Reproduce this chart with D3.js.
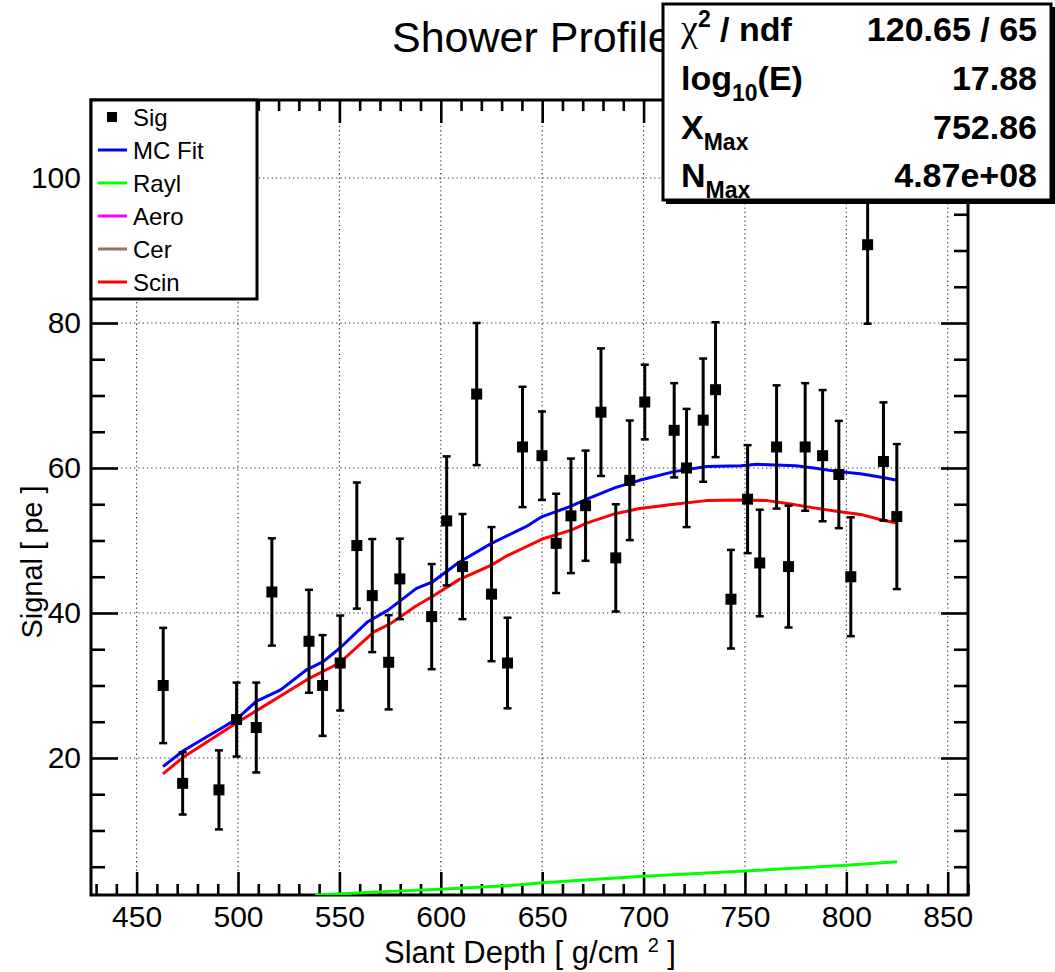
<!DOCTYPE html>
<html><head><meta charset="utf-8">
<script src="https://cdn.jsdelivr.net/npm/d3@7"></script>
<style>body{margin:0;background:#fff}svg{display:block}</style>
</head><body>
<script>
// ---------- data ----------
const depth = [463.1,472.7,490.6,499.3,509.0,516.7,535.0,541.7,550.4,558.6,566.2,574.3,579.8,595.5,602.9,610.7,617.7,625.0,632.9,640.3,649.9,656.9,664.2,671.4,679.0,686.3,693.2,700.6,715.1,721.2,729.4,735.5,743.1,751.3,757.3,765.6,771.5,779.7,788.3,796.3,802.2,810.5,818.3,824.9];
const signal = [30.0,16.5,15.6,25.3,24.2,42.9,36.1,30.0,33.1,49.3,42.4,33.2,44.7,39.5,52.7,46.4,70.2,42.6,33.1,62.9,61.7,49.6,53.4,54.8,67.7,47.6,58.3,69.1,65.2,60.0,66.6,70.8,41.9,55.7,46.9,62.9,46.4,62.9,61.7,59.1,45.0,90.8,60.9,53.3];
const signalErr = [7.95,4.3,5.45,5.1,6.2,7.4,7.1,6.95,6.55,8.7,7.8,6.5,5.55,7.25,8.9,7.25,9.8,9.25,6.25,8.3,6.1,6.85,7.9,7.6,8.8,7.4,8.25,5.15,6.5,8.15,8.5,9.3,6.8,7.45,7.35,8.5,8.4,8.8,9.05,7.4,8.2,10.9,8.15,10.0];

const fitX = [463,473,499,509,521,534,542,550,564,574,588,596,609,625,642,650,664,672,686,698,715,731,748,756,775,784,796,807,818,825];
const fitY = [18.8,21.0,25.3,27.8,29.4,32.2,33.3,35.1,38.8,40.4,43.4,44.3,47.0,49.6,51.9,53.3,54.7,55.7,57.3,58.3,59.5,60.2,60.3,60.5,60.3,60.0,59.5,59.2,58.7,58.3];

const scinX = [463,473,499,509,534,550,567,575,588,596,609,625,632,650,664,672,686,698,715,731,748,761,771,784,796,807,818,825];
const scinY = [17.8,20.1,24.8,26.5,30.8,33.1,37.4,38.5,41.0,42.3,44.6,46.6,47.8,50.2,51.4,52.4,53.7,54.4,55.0,55.5,55.6,55.5,55.1,54.5,54.0,53.6,52.8,52.4];

const raylX = [538,554,575,600,639,650,700,750,800,825];
const raylY = [1.1,1.3,1.6,1.9,2.5,2.8,3.7,4.4,5.2,5.7];

const xMajorTicks = [450,500,550,600,650,700,750,800,850];
const yMajorTicks = [20,40,60,80,100];

const legendLabels = ["Sig","MC Fit","Rayl","Aero","Cer","Scin"];
const legendColors = ["#000000","#0000ff","#00ff00","#ff00ff","#9a7060","#ff0000"];

const statNames = ["chi2","log10E","XMax","NMax"];
const statValues = ["120.65 / 65","17.88","752.86","4.87e+08"];

const titleText = "Shower Profile";
const xTitle = "Slant Depth [ g/cm ";
const yTitle = "Signal [ pe ]";

// ---------- layout ----------
const W = 1055, H = 972;
const L = 91, R = 968, T = 100, B = 895;
const FONT = "'Liberation Sans', Arial, Helvetica, sans-serif";

const svg = d3.select("body").append("svg").attr("width", W).attr("height", H)
  .style("font-family", FONT);

const x = d3.scaleLinear().domain([427.5, 860]).range([L, R]);
const y = d3.scaleLinear().domain([1.1, 110.76]).range([B, T]);

svg.append("defs").append("clipPath").attr("id","clip")
  .append("rect").attr("x",L).attr("y",T).attr("width",R-L).attr("height",B-T);

// grid
const grid = svg.append("g").attr("stroke","#333").attr("stroke-width",1.1).attr("stroke-dasharray","1.3,3");
grid.selectAll(".gx").data(xMajorTicks).join("line")
  .attr("x1",d=>x(d)).attr("x2",d=>x(d)).attr("y1",T).attr("y2",B);
grid.selectAll(".gy").data(yMajorTicks).join("line")
  .attr("x1",L).attr("x2",R).attr("y1",d=>y(d)).attr("y2",d=>y(d));

// axes
const xMinor = d3.range(430, 861, 10).filter(v => v % 50 !== 0);
const yMinor = d3.range(5, 111, 5).filter(v => v % 20 !== 0);

function styleAxis(g){
  g.select(".domain").remove();
  g.selectAll(".tick line").attr("stroke","#000").attr("stroke-width",2.6);
  g.selectAll(".tick text").attr("fill","#000").style("font-family",FONT).style("font-size","30px");
}

svg.append("g").attr("transform",`translate(0,${B})`)
  .call(d3.axisBottom(x).tickValues(xMajorTicks).tickSize(-23).tickSizeOuter(0).tickPadding(11).tickFormat(d3.format("d")))
  .call(styleAxis);
svg.append("g").attr("transform",`translate(0,${B})`)
  .call(d3.axisBottom(x).tickValues(xMinor).tickSize(-11).tickSizeOuter(0).tickFormat(""))
  .call(styleAxis);
svg.append("g").attr("transform",`translate(0,${T})`)
  .call(d3.axisTop(x).tickValues(xMajorTicks).tickSize(-23).tickSizeOuter(0).tickFormat(""))
  .call(styleAxis);
svg.append("g").attr("transform",`translate(0,${T})`)
  .call(d3.axisTop(x).tickValues(xMinor).tickSize(-11).tickSizeOuter(0).tickFormat(""))
  .call(styleAxis);

svg.append("g").attr("transform",`translate(${L},0)`)
  .call(d3.axisLeft(y).tickValues(yMajorTicks).tickSize(-27).tickSizeOuter(0).tickPadding(10).tickFormat(d3.format("d")))
  .call(styleAxis);
svg.append("g").attr("transform",`translate(${L},0)`)
  .call(d3.axisLeft(y).tickValues(yMinor).tickSize(-14).tickSizeOuter(0).tickFormat(""))
  .call(styleAxis);
svg.append("g").attr("transform",`translate(${R},0)`)
  .call(d3.axisRight(y).tickValues(yMajorTicks).tickSize(-27).tickSizeOuter(0).tickFormat(""))
  .call(styleAxis);
svg.append("g").attr("transform",`translate(${R},0)`)
  .call(d3.axisRight(y).tickValues(yMinor).tickSize(-14).tickSizeOuter(0).tickFormat(""))
  .call(styleAxis);

// frame
svg.append("rect").attr("x",L).attr("y",T).attr("width",R-L).attr("height",B-T)
  .attr("fill","none").attr("stroke","#000").attr("stroke-width",3);

// curves
const plot = svg.append("g").attr("clip-path","url(#clip)");
const line = d3.line().x(d=>x(d[0])).y(d=>y(d[1]));
function drawCurve(xs, ys, color){
  plot.append("path").datum(xs.map((v,i)=>[v,ys[i]]))
    .attr("d", line).attr("fill","none").attr("stroke",color).attr("stroke-width",3).attr("stroke-linejoin","round");
}
drawCurve(raylX, raylY, "#00ff00");
drawCurve(scinX, scinY, "#ff0000");
drawCurve(fitX, fitY, "#0000ff");

// data points
const pts = plot.append("g");
const pdata = depth.map((d,i)=>({x:d, y:signal[i], e:signalErr[i]}));
pts.selectAll(".eb").data(pdata).join("line")
  .attr("x1",d=>x(d.x)).attr("x2",d=>x(d.x))
  .attr("y1",d=>y(d.y-d.e)).attr("y2",d=>y(d.y+d.e))
  .attr("stroke","#000").attr("stroke-width",3);
pts.selectAll(".capT").data(pdata).join("line")
  .attr("x1",d=>x(d.x)-4).attr("x2",d=>x(d.x)+4)
  .attr("y1",d=>y(d.y+d.e)).attr("y2",d=>y(d.y+d.e))
  .attr("stroke","#000").attr("stroke-width",2.5);
pts.selectAll(".capB").data(pdata).join("line")
  .attr("x1",d=>x(d.x)-4).attr("x2",d=>x(d.x)+4)
  .attr("y1",d=>y(d.y-d.e)).attr("y2",d=>y(d.y-d.e))
  .attr("stroke","#000").attr("stroke-width",2.5);
pts.selectAll(".mk").data(pdata).join("rect")
  .attr("x",d=>x(d.x)-5.5).attr("y",d=>y(d.y)-5.5).attr("width",11).attr("height",11).attr("fill","#000");

// title
svg.append("text").attr("x",392).attr("y",52).attr("font-size",43).attr("fill","#000").text(titleText);

// axis titles
const xt = svg.append("text").attr("x",530).attr("y",963).attr("text-anchor","middle")
  .attr("font-size",31).attr("fill","#000");
xt.append("tspan").text(xTitle);
xt.append("tspan").attr("dy",-11).attr("font-size",20).text("2");
xt.append("tspan").attr("dy",11).text(" ]");

svg.append("text").attr("transform","translate(42,562) rotate(-90)").attr("text-anchor","middle")
  .attr("font-size",29).attr("fill","#000").text(yTitle);

// legend
const lg = svg.append("g");
lg.append("rect").attr("x",L).attr("y",T).attr("width",166).attr("height",199)
  .attr("fill","#fff").attr("stroke","#000").attr("stroke-width",3);
const rowY = i => 117 + i*33;
legendLabels.forEach((lab,i)=>{
  if(i===0){
    lg.append("rect").attr("x",107).attr("y",rowY(i)-5).attr("width",10).attr("height",10).attr("fill","#000");
  } else {
    lg.append("line").attr("x1",98).attr("x2",127).attr("y1",rowY(i)).attr("y2",rowY(i))
      .attr("stroke",legendColors[i]).attr("stroke-width",3);
  }
  lg.append("text").attr("x",133).attr("y",rowY(i)).attr("dy","0.36em")
    .attr("font-size",24).attr("fill","#000").text(lab);
});

// stats box
const sb = svg.append("g");
sb.append("rect").attr("x",666).attr("y",7).attr("width",389).attr("height",197).attr("fill","#000");
sb.append("rect").attr("x",663).attr("y",4).attr("width",388).attr("height",196)
  .attr("fill","#fff").attr("stroke","#000").attr("stroke-width",3);
const baselines = [41,90,139,187];
const sfs = 34;
function statLabel(i, g){
  const t = g.append("text").attr("x",681).attr("y",baselines[i]).attr("font-size",sfs)
    .attr("font-weight","bold").attr("fill","#000");
  if(statNames[i]==="chi2"){
    t.append("tspan").attr("font-family","'Liberation Serif', 'DejaVu Serif', serif").attr("font-weight","normal").attr("font-size",38).text("\u03C7");
    t.append("tspan").attr("dy",-14).attr("font-size",23).text("2");
    t.append("tspan").attr("dy",14).text(" / ndf");
  } else if(statNames[i]==="log10E"){
    t.append("tspan").text("log");
    t.append("tspan").attr("dy",11).attr("font-size",23).text("10");
    t.append("tspan").attr("dy",-11).text("(E)");
  } else if(statNames[i]==="XMax"){
    t.append("tspan").text("X");
    t.append("tspan").attr("dy",11).attr("font-size",23).text("Max");
  } else {
    t.append("tspan").text("N");
    t.append("tspan").attr("dy",11).attr("font-size",23).text("Max");
  }
}
statValues.forEach((v,i)=>{
  statLabel(i, sb);
  sb.append("text").attr("x",1037).attr("y",baselines[i]).attr("text-anchor","end")
    .attr("font-size",sfs).attr("font-weight","bold").attr("fill","#000").text(v);
});
</script>
</body></html>
